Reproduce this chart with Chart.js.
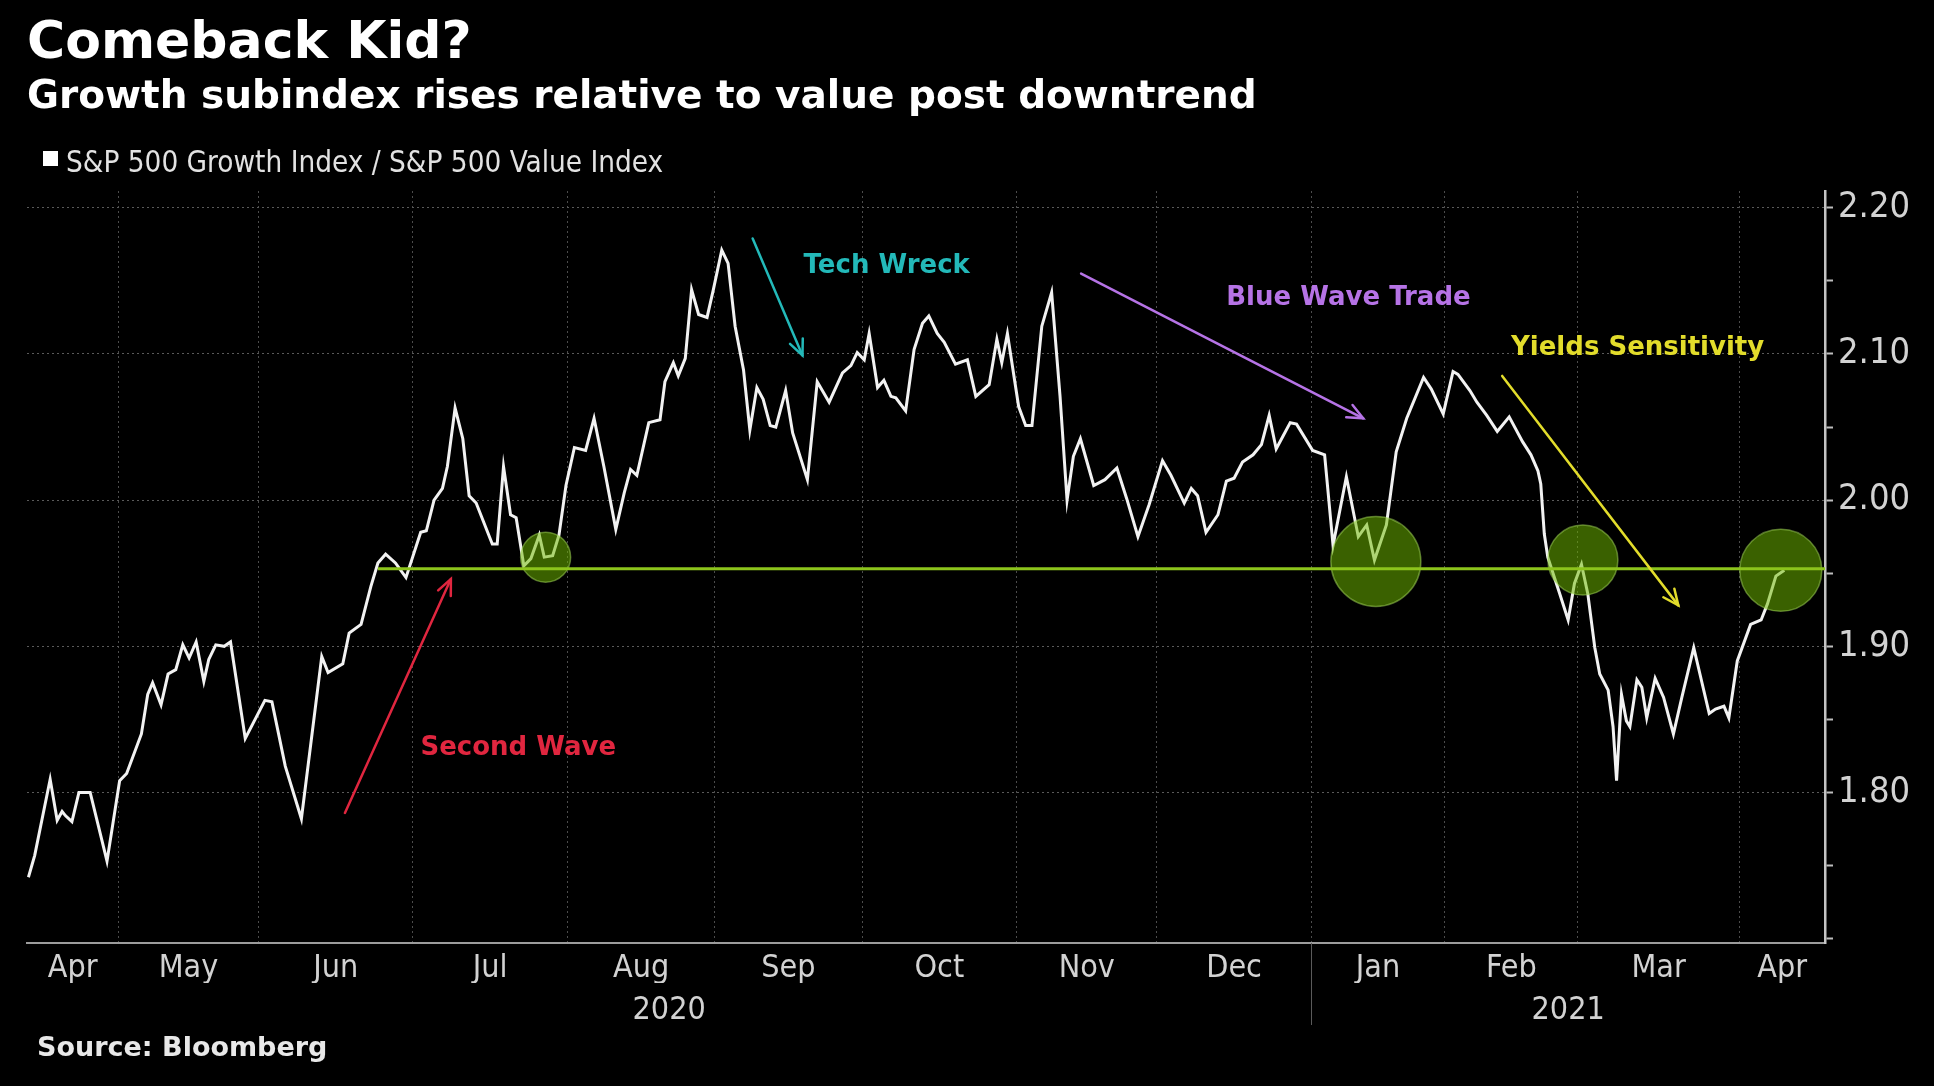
<!DOCTYPE html>
<html lang="en">
<head>
<meta charset="utf-8">
<title>Comeback Kid?</title>
<script src="https://cdn.jsdelivr.net/npm/chart.js@4.4.0/dist/chart.umd.min.js"></script>
<style>
    html, body { margin: 0; padding: 0; background: #000; }
    #wrap { position: relative; width: 1934px; height: 1086px; background: #000; overflow: hidden; }
    #chart { position: absolute; left: 0; top: 0; }
    .txt { position: absolute; white-space: nowrap; line-height: 1; }
    #title { left: 27px; top: 10px; font: bold 52px 'DejaVu Sans', sans-serif; color: #fff; }
    #subtitle { left: 27px; top: 72px; font: bold 39px 'DejaVu Sans', sans-serif; color: #fff; }
    #legend-box { position: absolute; left: 43px; top: 151px; width: 15px; height: 15px; background: #fff; }
    #legend { left: 66px; top: 145px; font: 29.4px 'DejaVu Sans Condensed', 'DejaVu Sans', sans-serif; font-stretch: condensed; color: #e2e2e2; }
    #source { left: 37px; top: 1031px; font: bold 27px 'DejaVu Sans', sans-serif; color: #e8e8e8; }
</style>
</head>
<body>
<div id="wrap">
    <canvas id="chart" width="1934" height="1086"></canvas>
    <div class="txt" id="title">Comeback Kid?</div>
    <div class="txt" id="subtitle">Growth subindex rises relative to value post downtrend</div>
    <div id="legend-box"></div>
    <div class="txt" id="legend">S&amp;P 500 Growth Index / S&amp;P 500 Value Index</div>
    <div class="txt" id="source">Source: Bloomberg</div>
</div>
<script>
// x = 営業日インデックス (2020/5/1 = 0)
const tradingDay = [
    -12.8, -11.9, -9.7, -8.7, -8.0, -7.5, -6.6, -5.6, -4.0, -1.6,
    0.2, 1.2, 3.3, 4.2, 4.9, 6.1, 7.1, 8.2, 9.2, 10.1,
    11.1, 12.2, 12.9, 13.9, 15.1, 16.0, 18.1, 20.9, 21.9, 23.8,
    26.1, 29.0, 29.9, 32.0, 32.9, 34.6, 36.0, 37.0, 38.1, 39.5, 41.0,
    43.1, 43.9, 45.0, 46.2, 46.9, 48.0, 49.1, 50.0, 51.0, 53.3,
    54.0, 54.9, 55.9, 56.7, 57.8, 58.8, 60.0, 60.7, 61.9, 62.8,
    63.8, 65.0, 66.6, 67.8, 69.2, 70.9, 72.1, 73.0, 73.9, 75.6,
    77.2, 77.9, 79.1, 79.8, 80.8, 81.7, 82.7, 83.9, 84.8, 86.0,
    86.9, 87.9, 89.1, 90.0, 91.0, 91.9, 92.9,
    93.7, 95.1, 96.1, 98.2, 99.6, 101.3, 103.2, 104.4, 105.3, 106.3,
    107.0, 108.2, 109.1, 110.1, 110.8, 112.2, 113.4, 114.6, 115.5, 116.7,
    117.7, 119.3, 121.0, 122.2, 124.1, 125.2, 125.9, 126.7, 128.3, 129.3,
    130.2, 131.6, 133.0, 134.2, 135.2, 136.1, 137.1, 139.0, 140.6, 142.3,
    143.7, 145.3,
    146.9, 148.8, 150.0, 151.9, 152.9, 153.8, 155.0, 156.7, 157.9, 159.0,
    160.2, 161.7, 162.9, 164.0, 165.0, 166.0, 167.0, 167.9, 170.2, 171.9,
    173.1, 175.0, 176.7, 177.9, 179.0, 180.7, 182.1, 183.6, 186.0, 187.1,
    188.8, 190.2, 190.9, 192.6,
    193.6, 195.0, 196.5, 198.2, 200.1, 201.3, 202.3, 202.7, 203.2, 203.7,
    205.4, 206.6, 207.5, 208.5, 209.4, 210.4, 211.1, 212.3, 213.0, 213.5,
    214.2, 214.9, 215.4, 216.4, 217.1, 217.8, 219.0, 220.2, 221.6, 222.8,
    224.5, 226.7, 227.6, 228.8, 229.5, 230.7, 232.6, 234.1, 235.0, 236.2,
    237.4
];

// S&P 500 Growth / Value の比率
const growthValueRatio = [
    1.742, 1.757, 1.809, 1.781, 1.787, 1.784, 1.780, 1.800, 1.800, 1.753,
    1.808, 1.813, 1.840, 1.867, 1.875, 1.860, 1.881, 1.884, 1.901, 1.892,
    1.903, 1.876, 1.891, 1.901, 1.900, 1.903, 1.837, 1.863, 1.862, 1.818,
    1.782, 1.893, 1.882, 1.888, 1.909, 1.915, 1.941, 1.957, 1.963, 1.957, 1.947,
    1.978, 1.979, 2.000, 2.008, 2.023, 2.063, 2.042, 2.003, 1.998, 1.970,
    1.970, 2.023, 1.990, 1.988, 1.955, 1.960, 1.976, 1.961, 1.962, 1.976,
    2.010, 2.036, 2.034, 2.056, 2.023, 1.980, 2.005, 2.021, 2.017, 2.053,
    2.055, 2.081, 2.094, 2.085, 2.097, 2.144, 2.127, 2.125, 2.144, 2.171,
    2.162, 2.119, 2.089, 2.048, 2.077, 2.069, 2.051,
    2.050, 2.075, 2.046, 2.014, 2.081, 2.067, 2.087, 2.092, 2.101, 2.096,
    2.114, 2.077, 2.082, 2.071, 2.070, 2.061, 2.103, 2.121, 2.126, 2.114,
    2.108, 2.093, 2.096, 2.071, 2.079, 2.110, 2.094, 2.114, 2.064, 2.051,
    2.051, 2.119, 2.142, 2.071, 2.000, 2.030, 2.042, 2.010, 2.014, 2.022,
    2.001, 1.975,
    1.997, 2.027, 2.017, 1.998, 2.008, 2.003, 1.978, 1.990, 2.013, 2.015,
    2.026, 2.031, 2.038, 2.058, 2.035, 2.044, 2.053, 2.052, 2.034, 2.031,
    1.969, 2.016, 1.975, 1.983, 1.959, 1.983, 2.033, 2.056, 2.084, 2.076,
    2.059, 2.088, 2.086, 2.075,
    2.067, 2.058, 2.047, 2.057, 2.040, 2.031, 2.020, 2.011, 1.977, 1.961,
    1.936, 1.918, 1.943, 1.956, 1.936, 1.899, 1.881, 1.870, 1.845, 1.808,
    1.867, 1.849, 1.845, 1.877, 1.872, 1.851, 1.878, 1.865, 1.840, 1.865,
    1.899, 1.854, 1.857, 1.859, 1.851, 1.890, 1.915, 1.918, 1.929, 1.948,
    1.952
];

// 月の区切り (営業日インデックス) と目盛りラベル
const axisStart = -13;
const axisEnd = 243.2;
const monthStarts = [0, 20, 42, 64, 85, 106, 128, 148, 170, 189, 208, 231];
const monthLabels = ['Apr', 'May', 'Jun', 'Jul', 'Aug', 'Sep', 'Oct', 'Nov', 'Dec', 'Jan', 'Feb', 'Mar', 'Apr'];
const yearStarts = [170];
const yearLabels = ['2020', '2021'];
const yTickValues = [1.70, 1.75, 1.80, 1.85, 1.90, 1.95, 2.00, 2.05, 2.10, 2.15, 2.20];
const yLabelValues = [1.80, 1.90, 2.00, 2.10, 2.20];

// サポートライン と 接触ポイント
const supportLevel = 1.953;
const supportFromDay = 37;
const touchDays = [60.9, 179.2, 208.7, 236.9];
const touchValues = [1.961, 1.958, 1.959, 1.952];

// 注釈 (矢印 + テキスト)
const calloutTexts = ['Second Wave', 'Tech Wreck', 'Blue Wave Trade', 'Yields Sensitivity'];
const calloutFrom = [[32.3, 1.786], [90.4, 2.179], [137.2, 2.155], [197.2, 2.085]];
const calloutTo = [[47.4, 1.946], [97.5, 2.099], [177.4, 2.056], [222.3, 1.928]];
const calloutTextAt = [[57.0, 1.830], [109.5, 2.160], [175.3, 2.138], [216.5, 2.104]];

// 見た目の設定
const calloutColors = ['#e0263f', '#23b9b9', '#b673e6', '#e2dc2b'];
const touchRadii = [25, 45, 35, 41];
const TICK_FONT = "'DejaVu Sans Condensed', 'Liberation Sans Narrow', 'DejaVu Sans', sans-serif";

document.addEventListener('DOMContentLoaded', () => {
    initChart();
});

// 月ラベルは区切りの中央に置く
function monthCenters() {
    const edges = [axisStart].concat(monthStarts, [axisEnd]);
    return monthLabels.map((_, i) => (edges[i] + edges[i + 1]) / 2);
}

function yearCenters() {
    const edges = [axisStart].concat(yearStarts, [axisEnd]);
    return yearLabels.map((_, i) => (edges[i] + edges[i + 1]) / 2);
}

const near = (a, b) => Math.abs(a - b) < 1e-6;

// ラベルのはみ出し分の余白を付けない (チャート領域の位置を固定するため)
function fixHorizontal(height) {
    return axis => {
        axis.height = height;
        axis.paddingLeft = 0;
        axis.paddingRight = 0;
    };
}

// 矢印・注釈・年の区切り線
const calloutPlugin = {
    id: 'callouts',
    afterDatasetsDraw(chart) {
        const { ctx, chartArea } = chart;
        const xs = chart.scales.x;
        const ys = chart.scales.y;
        ctx.save();

        // 年の区切り
        yearStarts.forEach(d => {
            const px = Math.round(xs.getPixelForValue(d)) + 0.5;
            ctx.strokeStyle = '#5a5a5a';
            ctx.lineWidth = 1;
            ctx.beginPath();
            ctx.moveTo(px, chartArea.bottom);
            ctx.lineTo(px, chartArea.bottom + 82);
            ctx.stroke();
        });

        calloutTexts.forEach((text, i) => {
            const x1 = xs.getPixelForValue(calloutFrom[i][0]);
            const y1 = ys.getPixelForValue(calloutFrom[i][1]);
            const x2 = xs.getPixelForValue(calloutTo[i][0]);
            const y2 = ys.getPixelForValue(calloutTo[i][1]);
            const ang = Math.atan2(y2 - y1, x2 - x1);
            const head = 17;

            ctx.strokeStyle = calloutColors[i];
            ctx.lineWidth = 2.5;
            ctx.lineCap = 'round';
            ctx.beginPath();
            ctx.moveTo(x1, y1);
            ctx.lineTo(x2, y2);
            ctx.stroke();

            ctx.beginPath();
            ctx.moveTo(x2 - head * Math.cos(ang - 0.42), y2 - head * Math.sin(ang - 0.42));
            ctx.lineTo(x2, y2);
            ctx.lineTo(x2 - head * Math.cos(ang + 0.42), y2 - head * Math.sin(ang + 0.42));
            ctx.stroke();

            ctx.fillStyle = calloutColors[i];
            ctx.font = "bold 26px 'DejaVu Sans', sans-serif";
            ctx.textAlign = 'center';
            ctx.textBaseline = 'middle';
            ctx.fillText(text, xs.getPixelForValue(calloutTextAt[i][0]), ys.getPixelForValue(calloutTextAt[i][1]));
        });
        ctx.restore();
    }
};

function initChart() {
    const canvas = document.getElementById('chart');
    const mCenters = monthCenters();
    const yCenters = yearCenters();

    const lineData = tradingDay.map((d, i) => ({ x: d, y: growthValueRatio[i] }));
    const touchData = touchDays.map((d, i) => ({ x: d, y: touchValues[i], r: touchRadii[i] }));
    const supportData = [{ x: supportFromDay, y: supportLevel }, { x: axisEnd, y: supportLevel }];

    new Chart(canvas, {
        type: 'line',
        data: {
            datasets: [
                {
                    label: 'S&P 500 Growth Index / S&P 500 Value Index',
                    data: lineData,
                    borderColor: '#f2f2f2',
                    borderWidth: 3,
                    pointRadius: 0,
                    tension: 0,
                    order: 3
                },
                {
                    type: 'bubble',
                    label: 'touch',
                    data: touchData,
                    backgroundColor: 'rgba(112, 186, 0, 0.52)',
                    borderColor: 'rgba(165, 220, 90, 0.5)',
                    borderWidth: 1.5,
                    order: 2
                },
                {
                    label: 'support',
                    data: supportData,
                    borderColor: '#8cc41c',
                    borderWidth: 3,
                    pointRadius: 0,
                    tension: 0,
                    order: 1
                }
            ]
        },
        options: {
            responsive: false,
            animation: false,
            devicePixelRatio: 1,
            events: [],
            // バブルの半径分の自動余白を止める
            layout: { autoPadding: false, padding: { top: 191, left: 27, right: 0, bottom: 58 } },
            plugins: {
                legend: { display: false },
                tooltip: { enabled: false }
            },
            scales: {
                x: {
                    type: 'linear',
                    position: 'bottom',
                    weight: 0,
                    min: axisStart,
                    max: axisEnd,
                    afterBuildTicks: axis => {
                        axis.ticks = monthStarts.concat(mCenters)
                            .sort((a, b) => a - b)
                            .map(v => ({ value: v }));
                    },
                    afterFit: fixHorizontal(40),
                    ticks: {
                        autoSkip: false,
                        maxRotation: 0,
                        padding: 6,
                        color: '#d2d2d2',
                        font: { family: TICK_FONT, size: 32 },
                        callback: v => {
                            const i = mCenters.findIndex(c => near(c, v));
                            return i >= 0 ? monthLabels[i] : '';
                        }
                    },
                    grid: {
                        drawTicks: false,
                        lineWidth: 1,
                        color: ctx => (ctx.tick && monthStarts.some(m => near(m, ctx.tick.value))) ? '#4c4c4c' : 'rgba(0,0,0,0)'
                    },
                    border: { display: true, color: '#9c9c9c', width: 2, dash: [2, 3] }
                },
                x2: {
                    type: 'linear',
                    position: 'bottom',
                    weight: 1,
                    min: axisStart,
                    max: axisEnd,
                    afterBuildTicks: axis => {
                        axis.ticks = yCenters.map(v => ({ value: v }));
                    },
                    afterFit: fixHorizontal(45),
                    ticks: {
                        autoSkip: false,
                        maxRotation: 0,
                        padding: 0,
                        color: '#d2d2d2',
                        font: { family: TICK_FONT, size: 32 },
                        callback: v => {
                            const i = yCenters.findIndex(c => near(c, v));
                            return i >= 0 ? yearLabels[i] : '';
                        }
                    },
                    grid: { display: false },
                    border: { display: false }
                },
                y: {
                    type: 'linear',
                    position: 'right',
                    min: 1.697,
                    max: 2.2115,
                    afterBuildTicks: axis => {
                        axis.ticks = yTickValues.map(v => ({ value: v }));
                    },
                    afterFit: axis => {
                        axis.width = 109;
                        axis.paddingTop = 0;
                        axis.paddingBottom = 0;
                    },
                    ticks: {
                        padding: 5,
                        color: '#d2d2d2',
                        font: { family: TICK_FONT, size: 36 },
                        callback: v => yLabelValues.some(l => near(l, v)) ? v.toFixed(2) : ''
                    },
                    grid: {
                        drawTicks: true,
                        tickLength: 8,
                        tickWidth: 2,
                        tickColor: '#bdbdbd',
                        lineWidth: 1,
                        color: ctx => (ctx.tick && yLabelValues.some(l => near(l, ctx.tick.value))) ? '#5a5a5a' : 'rgba(0,0,0,0)'
                    },
                    border: { display: true, color: '#c4c4c4', width: 2.5, dash: [2, 3] }
                }
            }
        },
        plugins: [calloutPlugin]
    });
}
</script>
</body>
</html>
